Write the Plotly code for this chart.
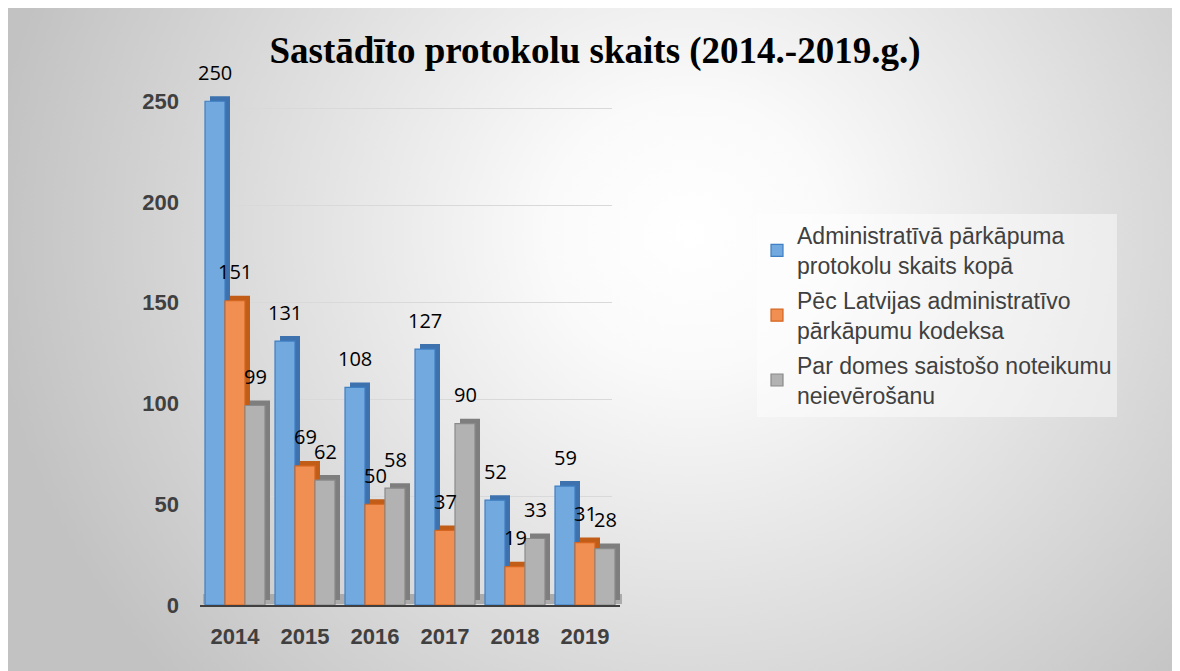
import base64
import plotly.graph_objects as go

# ---- data ----
years = ["2014", "2015", "2016", "2017", "2018", "2019"]
total = [250, 131, 108, 127, 52, 59]
kodekss = [151, 69, 50, 37, 19, 31]
saistosie = [99, 62, 58, 90, 33, 28]
series_names = [
    "Administratīvā pārkāpuma<br>protokolu skaits kopā",
    "Pēc Latvijas administratīvo<br>pārkāpumu kodeksa",
    "Par domes saistošo noteikumu<br>neievērošanu",
]
y_ticks = [0, 50, 100, 150, 200, 250]
title_text = "Sastādīto protokolu skaits (2014.-2019.g.)"

# ---- styles ----
front_fill = ["#72A9DE", "#F08F51", "#B2B2B2"]
front_line = ["#3F7FC4", "#D5651F", "#8A8A8A"]
side_fill = ["#3D72AE", "#C25D17", "#7E7E7E"]

# page has an 8px body margin; figure starts at window pixel (8, 8)
OFF = 8
W, H = 1180, 671 - OFF
L, R, T, B = 197, 625, 60, 605          # plot area in window pixels
PW, PH = R - L, B - T
YMAX = 268


def xd(px):
    return (px - L) / PW


def yd(px):
    return (B - px) / PH


fig = go.Figure()
values = [total, kodekss, saistosie]
cat_range = [-0.5, len(years) - 0.5]

# hidden host for back-wall gridlines
fig.add_trace(go.Bar(x=years, y=total, xaxis="x", yaxis="y", opacity=0,
                     showlegend=False, hoverinfo="skip"))
# depth (3D side/top) bars
for i, v in enumerate(values):
    fig.add_trace(go.Bar(x=years, y=v, xaxis="x2", yaxis="y2",
                         marker=dict(color=side_fill[i], line=dict(width=0)),
                         showlegend=False, hoverinfo="skip"))
# front faces
for i, v in enumerate(values):
    fig.add_trace(go.Bar(x=years, y=v, xaxis="x3", yaxis="y3", name=series_names[i],
                         legendgroup="g%d" % i,
                         marker=dict(color=front_fill[i], line=dict(color=front_line[i], width=1.2))))

# data labels
offsets = [-20, 0, 20]
annotations = []
for i, v in enumerate(values):
    for j, val in enumerate(v):
        annotations.append(dict(x=j, y=val, xref="x3", yref="y3", text=str(val),
                                showarrow=False, xshift=offsets[i], yshift=29,
                                font=dict(family="Open Sans", size=20, color="#000000")))

# gradient background
svg = (
    '<svg xmlns="http://www.w3.org/2000/svg" width="1180" height="663" viewBox="0 0 1180 663">'
    '<defs><radialGradient id="g" gradientUnits="userSpaceOnUse" cx="680" cy="225" r="700" '
    'gradientTransform="translate(680 225) scale(1 0.95) translate(-680 -225)">'
    '<stop offset="0" stop-color="#ffffff"/><stop offset="0.2" stop-color="#fafafa"/>'
    '<stop offset="1" stop-color="#c2c2c2"/></radialGradient></defs>'
    '<rect x="0" y="0" width="1180" height="663" fill="url(#g)"/></svg>'
)
src = "data:image/svg+xml;base64," + base64.b64encode(svg.encode()).decode()

tickfont = dict(family="Liberation Sans", size=22, color="#404040", weight="bold")

fig.update_layout(
    width=W, height=H,
    margin=dict(l=L - OFF, r=(OFF + W) - R, t=T - OFF, b=671 - B, autoexpand=False),
    paper_bgcolor="#ffffff",
    plot_bgcolor="rgba(0,0,0,0)",
    barmode="group", bargap=0.143, bargroupgap=0,
    title=dict(text="<b>" + title_text + "</b>", xref="paper", yref="container",
               x=xd(595), y=1 - (50 - OFF) / H, xanchor="center", yanchor="middle",
               font=dict(family="Liberation Serif", size=37, color="#000000")),
    # back-wall gridlines
    xaxis=dict(type="category", domain=[xd(228), xd(612)], range=cat_range, anchor="y",
               showticklabels=False, showgrid=False, zeroline=False, showline=False),
    yaxis=dict(domain=[yd(594), yd(60)], range=[0, (594 - 60) / 1.944], anchor="x",
               tickvals=y_ticks, showticklabels=False, showgrid=True, gridcolor="#d9d9d9",
               gridwidth=1, zeroline=False, showline=False),
    # depth faces
    xaxis2=dict(type="category", domain=[xd(205), xd(625)], range=cat_range, anchor="y2",
                showticklabels=False, showgrid=False, zeroline=False, showline=False),
    yaxis2=dict(domain=[yd(600), yd(60)], range=[0, YMAX], anchor="x2",
                showticklabels=False, showgrid=False, zeroline=False, showline=False),
    # front faces
    xaxis3=dict(type="category", domain=[xd(200), xd(620)], range=cat_range, anchor="y3",
                showgrid=False, zeroline=False, showline=True, linecolor="#404040",
                linewidth=2, tickfont=tickfont, ticklabelstandoff=11),
    yaxis3=dict(domain=[0, yd(65)], range=[0, YMAX], anchor="x3",
                side="left", showgrid=False, zeroline=False, showline=False,
                tickvals=y_ticks, tickfont=tickfont, ticklabelstandoff=20),
    legend=dict(x=xd(757), y=yd(214), xanchor="left", yanchor="top",
                bgcolor="rgba(255,255,255,0.45)", borderwidth=0,
                font=dict(family="Liberation Sans", size=23, color="#404040"),
                traceorder="grouped", itemwidth=30, tracegroupgap=2),
    annotations=annotations,
    shapes=[dict(type="rect", xref="paper", yref="paper", x0=xd(203), x1=xd(622),
                 y0=yd(604), y1=yd(594), fillcolor="#ababab", line=dict(width=0),
                 layer="below")],
    images=[dict(source=src, xref="paper", yref="paper", x=xd(OFF), y=yd(OFF),
                 sizex=W / PW, sizey=H / PH, sizing="stretch",
                 xanchor="left", yanchor="top", layer="below")],
)

fig.write_html("out.html", post_script="document.body.style.overflow='hidden';")
